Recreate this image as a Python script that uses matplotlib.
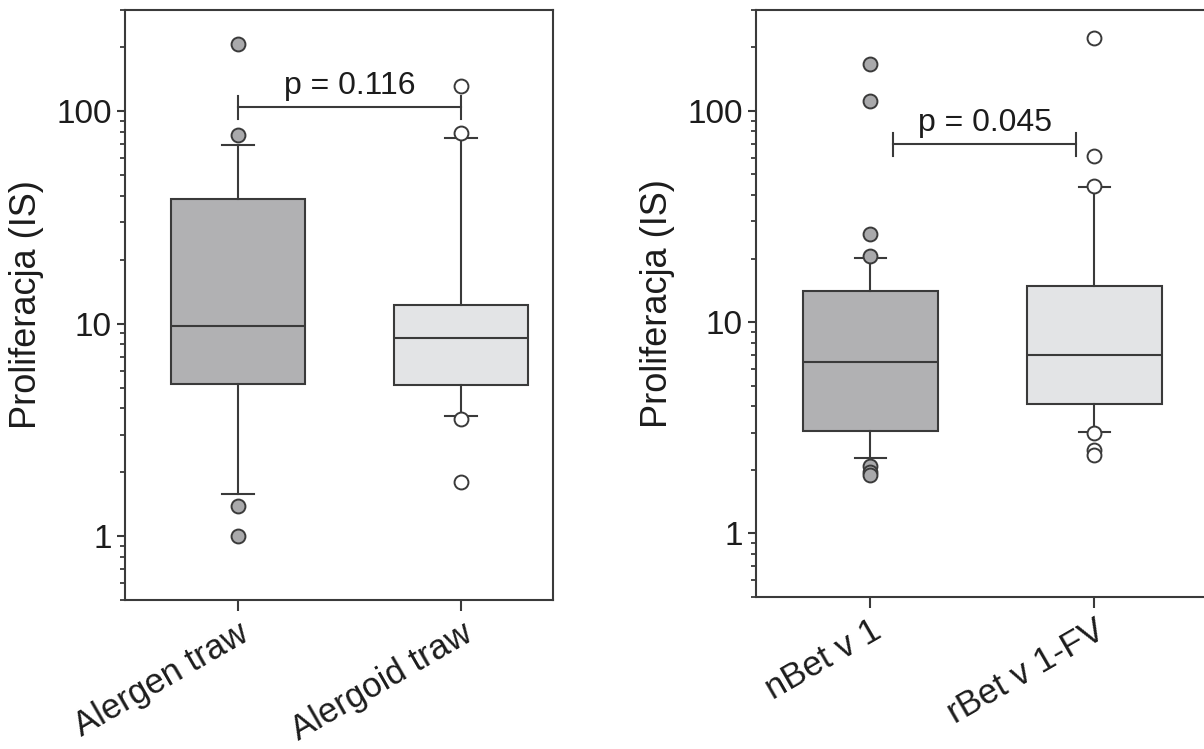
import matplotlib
matplotlib.use("Agg")
import matplotlib.pyplot as plt
from matplotlib.ticker import LogLocator, FixedLocator, NullFormatter

plt.rcParams['font.family'] = ['Liberation Sans', 'DejaVu Sans']

# left panel: grass allergen vs allergoid
left_names = ["Alergen traw", "Alergoid traw"]
left_q1 = [5.2, 5.15]
left_med = [9.8, 8.6]
left_q3 = [38.5, 12.3]
left_lo = [1.58, 3.69]
left_hi = [69.5, 75.3]
left_fliers = [[207, 77.8, 1.39, 1.0], [131, 79.5, 3.57, 1.8]]
left_p = "p = 0.116"

# right panel: nBet v 1 vs rBet v 1-FV
right_names = ["nBet v 1", "rBet v 1-FV"]
right_q1 = [3.04, 4.08]
right_med = [6.47, 6.98]
right_q3 = [14.0, 14.8]
right_lo = [2.27, 3.01]
right_hi = [20.1, 43.6]
right_fliers = [[167, 111, 26.1, 20.5, 2.08, 1.95, 1.9], [221, 61.2, 44, 3.0, 2.47, 2.34]]
right_p = "p = 0.045"

LINE = "#3a3a3a"
TXT = "#1c1c1c"
FILLS = ["#b1b1b3", "#e3e4e6"]
FLIER_FILLS = ["#a9a9ab", "#ffffff"]

fig = plt.figure(figsize=(12.04, 7.49), dpi=100)


def panel(rect, names, q1, med, q3, lo, hi, fliers, ptxt, bx, by, xlim):
    ax = fig.add_axes(rect)
    stats = []
    for i in range(len(names)):
        stats.append(dict(q1=q1[i], med=med[i], q3=q3[i], whislo=lo[i],
                          whishi=hi[i], fliers=[], label=names[i]))
    lw = 1.5
    parts = ax.bxp(stats, positions=[1, 2], widths=0.6, capwidths=0.14,
                   patch_artist=True, showfliers=False,
                   boxprops=dict(edgecolor=LINE, linewidth=lw),
                   medianprops=dict(color=LINE, linewidth=lw),
                   whiskerprops=dict(color=LINE, linewidth=lw),
                   capprops=dict(color=LINE, linewidth=lw))
    for patch, c in zip(parts['boxes'], FILLS):
        patch.set_facecolor(c)
    for i, fl in enumerate(fliers):
        ax.plot([i + 1] * len(fl), fl, 'o', ms=10, mfc=FLIER_FILLS[i],
                mec=LINE, mew=1.4, zorder=3, clip_on=False)
    # significance bracket
    ax.plot(bx, [by, by], color=LINE, lw=lw)
    for x in bx:
        ax.plot([x, x], [by * 0.88, by * 1.13], color=LINE, lw=lw)
    ax.text(sum(bx) / 2, by * 1.06, ptxt, ha='center', va='bottom', fontsize=23,
            color=TXT)

    ax.set_yscale('log')
    ax.set_ylim(0.5, 300)
    ax.set_xlim(*xlim)
    ax.yaxis.set_major_locator(FixedLocator([1, 10, 100]))
    ax.set_yticklabels(["1", "10", "100"])
    ax.yaxis.set_minor_locator(LogLocator(base=10, subs=range(2, 10)))
    ax.yaxis.set_minor_formatter(NullFormatter())
    ax.set_xticks([1, 2])
    ax.set_xticklabels(names, rotation=30, ha='right', rotation_mode='anchor',
                       fontsize=25)
    ax.tick_params(axis='y', which='major', labelsize=24, length=5.5, width=1.5,
                   color=LINE, labelcolor=TXT, pad=4)
    ax.tick_params(axis='x', which='major', length=8, width=1.5,
                   color=LINE, labelcolor=TXT, pad=4)
    ax.tick_params(axis='y', which='minor', length=3.5, width=1.3, color=LINE)
    ax.tick_params(axis='x', which='minor', bottom=False)
    for s in ax.spines.values():
        s.set_color(LINE)
        s.set_linewidth(1.5)
    ax.set_ylabel("Proliferacja (IS)", fontsize=26, color=TXT, labelpad=9)
    return ax


panel([0.1038, 0.1989, 0.3555, 0.7877], left_names, left_q1, left_med, left_q3,
      left_lo, left_hi, left_fliers, left_p, [1, 2], 105, (0.493, 2.412))
panel([0.6279, 0.2029, 0.3787, 0.7837], right_names, right_q1, right_med, right_q3,
      right_lo, right_hi, right_fliers, right_p, [1.1, 1.92], 69.8, (0.489, 2.525))

fig.savefig("out.png", dpi=100)
